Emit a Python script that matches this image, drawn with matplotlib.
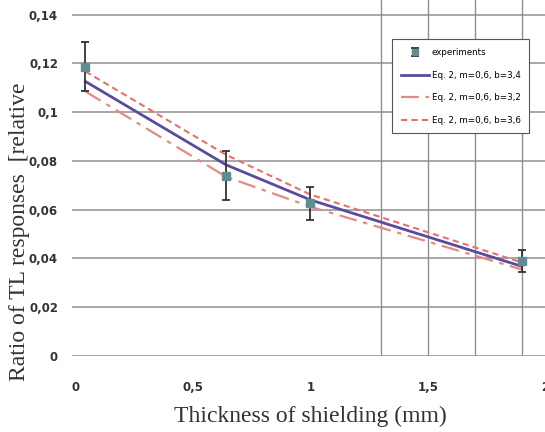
import numpy as np
import matplotlib.pyplot as plt

# experimental points
x_exp = [0.04, 0.64, 1.0, 1.9]
y_exp = [0.1186, 0.0740, 0.0627, 0.0390]
y_err = [0.0100, 0.0102, 0.0068, 0.0045]

# Eq. 2 curves
x_fit = [0.04, 0.64, 1.0, 1.9]
y_b34 = [0.1126, 0.0784, 0.0640, 0.0368]
y_b32 = [0.1085, 0.0735, 0.0612, 0.0355]
y_b36 = [0.1167, 0.0825, 0.0662, 0.0384]

xticks = [0, 0.5, 1, 1.5, 2]
xtick_labels = ['0', '0,5', '1', '1,5', '2']
yticks = [0, 0.02, 0.04, 0.06, 0.08, 0.1, 0.12, 0.14]
ytick_labels = ['0', '0,02', '0,04', '0,06', '0,08', '0,1', '0,12', '0,14']
vgrid = [1.3, 1.5, 1.7, 1.9]

fig = plt.figure(figsize=(5.45, 4.32), dpi=100)
ax = fig.add_axes([72/545, 76/432, 473/545, 356/432])

grid_col = '#8f8f8f'
for v in vgrid:
    ax.axvline(v, color=grid_col, lw=1, zorder=0)
ax.yaxis.grid(True, color=grid_col, lw=1.1, zorder=0)
ax.set_axisbelow(True)

ax.plot(x_fit, y_b34, color='#5a4c9c', lw=2, label='Eq. 2, m=0,6, b=3,4', zorder=3)
ax.plot(x_fit, y_b32, color='#e48a86', lw=1.6, dashes=[8, 3, 2, 3],
        label='Eq. 2, m=0,6, b=3,2', zorder=3)
ax.plot(x_fit, y_b36, color='#ea6e6e', lw=1.5, dashes=[3, 2],
        label='Eq. 2, m=0,6, b=3,6', zorder=3)
ax.errorbar(x_exp, y_exp, yerr=y_err, fmt='s', color='#5f8d93', ms=6,
            ecolor='#333333', elinewidth=1.3, capsize=3, capthick=1.3,
            label='experiments', zorder=4)

ax.set_xlim(-0.017, 2.0)
ax.set_ylim(0, 0.146)
ax.set_xticks(xticks)
ax.set_xticklabels(xtick_labels)
ax.set_yticks(yticks)
ax.set_yticklabels(ytick_labels)
for s in ax.spines.values():
    s.set_visible(False)
ax.tick_params(axis='x', length=0, pad=18)
ax.tick_params(axis='y', length=0, pad=10)
for lab in ax.get_xticklabels() + ax.get_yticklabels():
    lab.set_fontweight('bold')
    lab.set_fontsize(8.5)
    lab.set_color('#333333')

ax.set_xlabel('Thickness of shielding (mm)', family='Liberation Serif',
              fontsize=17, color='#333333')
ax.xaxis.set_label_coords(0.505, -0.14)
ax.set_ylabel('Ratio of TL responses  [relative', family='Liberation Serif',
              fontsize=17, color='#333333')
ax.yaxis.set_label_coords(-0.088, 0.35)

h, l = ax.get_legend_handles_labels()
order = [3, 0, 1, 2]
leg = ax.legend([h[i] for i in order], [l[i] for i in order],
                loc='upper left', bbox_to_anchor=(0.668, 0.902),
                fontsize=6.3, frameon=True, fancybox=False,
                edgecolor='#555555', framealpha=1, borderpad=1.0,
                labelspacing=1.55, handlelength=3.2, handletextpad=0.3,
                markerscale=0.7)
leg.get_frame().set_linewidth(0.8)

fig.savefig('out.png', dpi=100)
